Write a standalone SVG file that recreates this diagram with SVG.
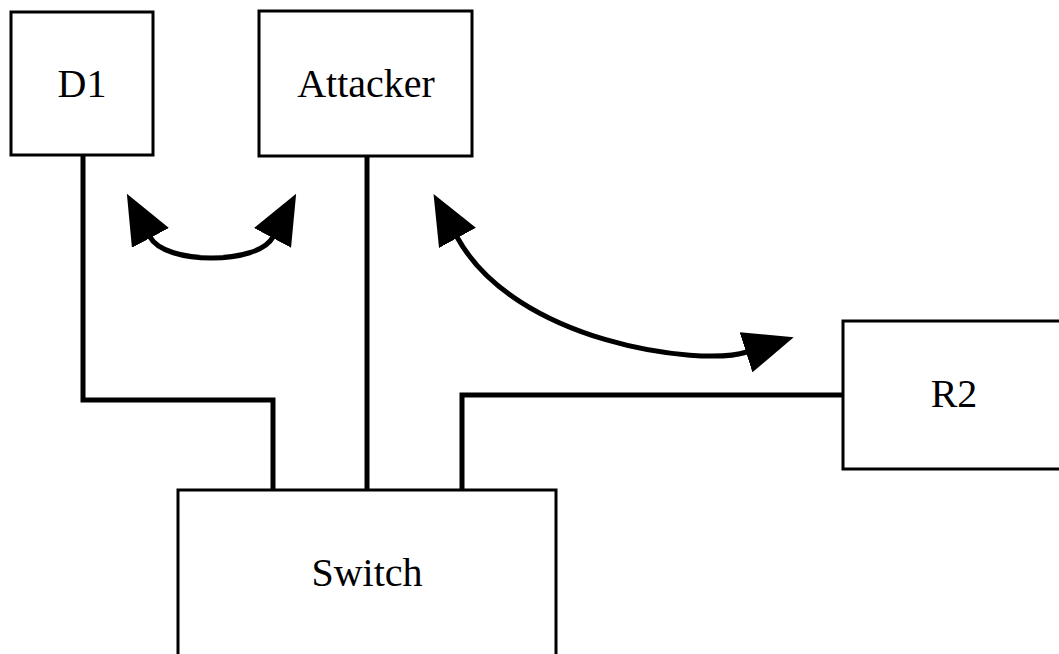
<svg xmlns="http://www.w3.org/2000/svg" width="1059" height="654" viewBox="0 0 1059 654">
<style>
.box{fill:#fff;stroke:#000;stroke-width:3}
.lbl{font-family:"Liberation Serif","Times New Roman",serif;font-size:40px;fill:#000;text-anchor:middle}
.wire{fill:none;stroke:#000;stroke-width:5}
.arc{fill:none;stroke:#000;stroke-width:5;marker-start:url(#ah);marker-end:url(#ah)}
</style>
<defs>
<marker id="ah" markerUnits="userSpaceOnUse" viewBox="0 0 50 42" markerWidth="50" markerHeight="42" refX="1" refY="21" orient="auto-start-reverse">
<path d="M0,0 L50,21 L0,42 Z" fill="#000"/>
</marker>
</defs>
<rect width="1059" height="654" fill="#fff"/>
<g id="connectors">
<path class="wire" d="M83,155 V400 H273 V490"/>
<path class="wire" d="M367,157 V490"/>
<path class="wire" d="M843,395 H462 V490"/>
<path class="arc" d="M150,237 C165,265 258,265 273,237"/>
<path class="arc" d="M457,237 C514.6,342.6 699.5,367 747,352"/>
</g>
<g id="D1">
<rect class="box" x="11" y="12" width="142" height="143"/>
<text class="lbl" x="82" y="97">D1</text>
</g>
<g id="Attacker">
<rect class="box" x="259" y="11" width="213" height="145"/>
<text class="lbl" x="366" y="97">Attacker</text>
</g>
<g id="R2">
<rect class="box" x="843" y="321" width="222" height="148"/>
<text class="lbl" x="954" y="407">R2</text>
</g>
<g id="Switch">
<rect class="box" x="178" y="490" width="378" height="190"/>
<text class="lbl" x="367" y="586">Switch</text>
</g>
</svg>
